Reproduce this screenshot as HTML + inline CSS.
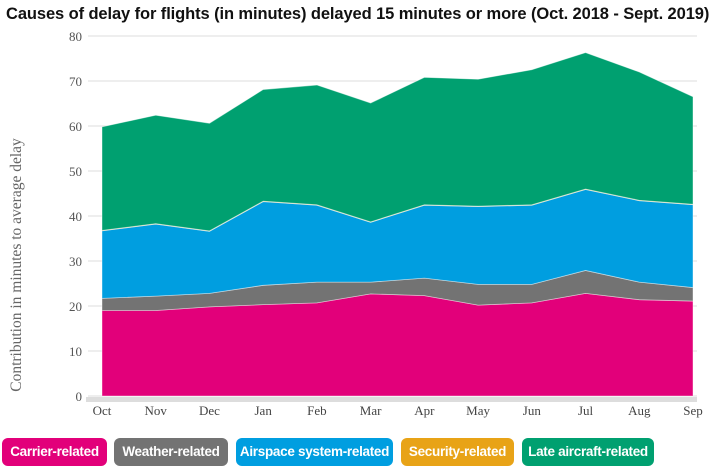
<!DOCTYPE html>
<html><head><meta charset="utf-8"><style>
body{margin:0;background:#fff;width:709px;height:469px;overflow:hidden;font-family:"Liberation Sans",sans-serif}
#title{position:absolute;left:6px;top:5px;font-size:16.5px;font-weight:bold;color:#111;letter-spacing:-0.1px;white-space:nowrap}
.leg{position:absolute;top:438px;height:28px;line-height:28px;border-radius:6px;color:#fff;font-size:13.5px;font-weight:bold;text-align:center;letter-spacing:-0.3px}
</style></head><body>
<div id="title">Causes of delay for flights (in minutes) delayed 15 minutes or more (Oct. 2018 - Sept. 2019)</div>
<svg id="chart" width="709" height="469" style="position:absolute;left:0;top:0"></svg>
<div class="leg" style="left:2px;width:105px;background:#e2007a">Carrier-related</div>
<div class="leg" style="left:114px;width:114px;background:#737373">Weather-related</div>
<div class="leg" style="left:236px;width:157px;background:#009ee0">Airspace system-related</div>
<div class="leg" style="left:401px;width:113px;background:#e8a317">Security-related</div>
<div class="leg" style="left:522px;width:132px;background:#00a070">Late aircraft-related</div>
<script>
const months=["Oct","Nov","Dec","Jan","Feb","Mar","Apr","May","Jun","Jul","Aug","Sep"];
const carrier=[19,19,19.8,20.3,20.7,22.7,22.3,20.2,20.7,22.8,21.4,21.1];
const weather=[2.7,3.2,3.0,4.3,4.6,2.6,3.9,4.6,4.1,5.1,3.9,3.0];
const airspace=[15.0,16.0,13.8,18.6,17.1,13.3,16.2,17.3,17.6,18.0,18.1,18.4];
const security=[0.1,0.1,0.1,0.1,0.1,0.1,0.1,0.1,0.1,0.1,0.1,0.1];
const lateAircraft=[23.0,24.1,23.9,24.8,26.6,26.4,28.3,28.2,30.0,30.3,28.5,23.9];
const yTicks=[0,10,20,30,40,50,60,70,80];
const series=[["carrier",carrier,"#e2007a"],["weather",weather,"#737373"],["airspace",airspace,"#009ee0"],["security",security,"#e8a317"],["late-aircraft",lateAircraft,"#00a070"]];
const svg=document.getElementById('chart');const NS="http://www.w3.org/2000/svg";
const x0=102,x1=693,yb=396,yt=36;
const X=i=>x0+(x1-x0)*i/(months.length-1);
const Y=v=>yb-(yb-yt)*v/80;
function mk(t,a,p){const e=document.createElementNS(NS,t);for(const k in a)e.setAttribute(k,a[k]);(p||svg).appendChild(e);return e;}
yTicks.forEach(t=>{
 const l=mk('line',{x1:88,x2:697,y1:Y(t),y2:Y(t),stroke:'#ddd','stroke-width':1});
 
 
 const tx=mk('text',{x:82,y:Y(t)+5,'text-anchor':'end','font-family':'Liberation Serif,serif','font-size':13,fill:'#555'});tx.textContent=t;
 
 
});
let base=months.map(()=>0);
series.forEach(([n,vals,c])=>{
 const top=base.map((b,i)=>b+vals[i]);
 let d='M'+top.map((v,i)=>X(i)+','+Y(v)).join('L');
 for(let i=months.length-1;i>=0;i--)d+='L'+X(i)+','+Y(base[i]);
 const p=mk('path',{d:d+'Z',fill:c,stroke:'rgba(255,255,255,0.5)','stroke-width':0.8});
 
 
 base=top;
});
const ax=mk('rect',{x:86,y:397,width:611,height:5,fill:'#ddd'});


months.forEach((m,i)=>{
 const t=mk('text',{x:X(i),y:415,'text-anchor':'middle','font-family':'Liberation Serif,serif','font-size':13,fill:'#444'});t.textContent=m;
 
 
});
const yl=mk('text',{x:0,y:0,transform:'translate(21,265) rotate(-90)','text-anchor':'middle','font-family':'Liberation Serif,serif','font-size':15.5,fill:'#666'});
yl.textContent='Contribution in minutes to average delay';


</script>
</body></html>
